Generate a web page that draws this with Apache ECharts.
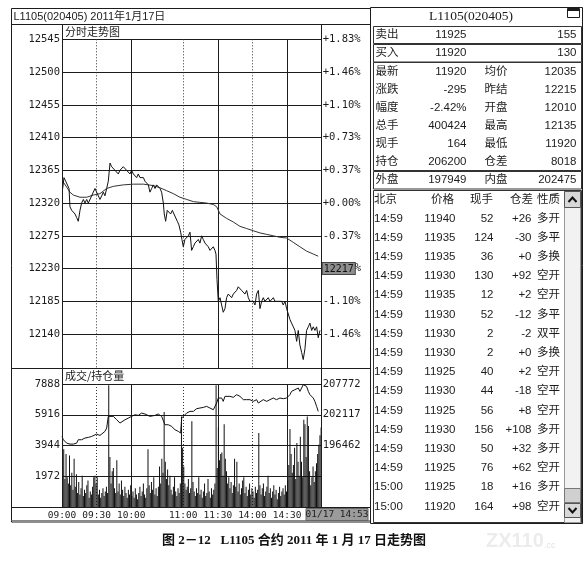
<!DOCTYPE html>
<html><head><meta charset="utf-8">
<script src="https://cdn.jsdelivr.net/npm/echarts@6/dist/echarts.min.js"></script>
<style>html,body{margin:0;padding:0;background:#fff}#c{width:588px;height:565px}</style>
</head><body><div id="c"></div><script>
// ---------------- data ----------------
const chartTitle = 'L1105(020405) 2011年1月17日';
const priceTitle = '分时走势图';
const volTitle = '成交/持仓量';
const stampText = '01/17 14:53';
const captionText = '图 2－12   L1105 合约 2011 年 1 月 17 日走势图';
const baseClose = 12320;
const priceTicks = [12140, 12185, 12230, 12275, 12320, 12365, 12410, 12455, 12500, 12545];
const cursorTick = 12230, cursorPrice = '12217';
const volTicks = [1972, 3944, 5916, 7888];
const oiTicks = [196462, 202117, 207772];
const timeTicks = [0, 30, 60, 105, 135, 165, 195];
const timeLabels = ['09:00', '09:30', '10:00', '11:00', '11:30', '14:00', '14:30'];
const solidTimeLines = [60, 135, 195];
const dottedTimeLines = [30, 105, 165];

// [minute index, price]
const pricePoints = [[0.6,12340],[1.7,12355],[3.2,12350],[4.6,12350],[6.1,12340],[6.9,12315],[8.4,12310],[9.8,12310],[11.3,12305],[12.7,12300],[14.1,12295],[15.6,12310],[17.0,12320],[18.5,12325],[19.9,12320],[21.4,12325],[22.8,12320],[24.3,12320],[25.7,12330],[27.1,12335],[28.6,12340],[30.0,12335],[31.5,12335],[32.9,12325],[34.4,12330],[35.8,12335],[37.2,12330],[38.7,12340],[40.1,12350],[41.6,12375],[43.0,12370],[44.5,12370],[45.9,12365],[47.4,12365],[48.8,12360],[50.2,12365],[51.7,12365],[53.1,12370],[54.6,12370],[56.0,12365],[57.5,12365],[58.9,12360],[60.3,12365],[61.8,12360],[63.2,12360],[64.7,12355],[66.1,12360],[67.6,12355],[69.0,12355],[70.5,12355],[71.9,12350],[73.3,12350],[74.8,12345],[76.2,12335],[77.7,12340],[79.1,12345],[80.6,12340],[82.0,12345],[83.4,12345],[84.9,12340],[86.3,12335],[87.8,12320],[88.6,12305],[89.8,12295],[91.2,12310],[92.7,12310],[94.1,12305],[95.6,12310],[97.0,12305],[98.5,12305],[99.9,12295],[101.3,12290],[102.8,12280],[103.9,12270],[105.1,12260],[106.5,12270],[108.0,12270],[109.4,12275],[110.9,12280],[112.3,12255],[113.8,12260],[115.2,12265],[116.6,12265],[118.1,12270],[119.5,12265],[121.0,12275],[122.4,12270],[123.9,12265],[125.3,12265],[126.7,12260],[128.2,12255],[129.6,12255],[131.1,12260],[132.5,12255],[133.4,12250],[134.3,12215],[135.4,12185],[136.9,12190],[138.3,12180],[139.7,12170],[141.2,12175],[142.6,12190],[144.1,12195],[145.5,12195],[147.0,12190],[148.4,12195],[149.9,12195],[151.3,12200],[152.7,12205],[154.2,12205],[155.6,12200],[157.1,12200],[158.5,12195],[160.0,12200],[161.4,12190],[162.8,12185],[164.3,12185],[165.7,12185],[167.2,12180],[168.6,12195],[170.1,12200],[171.5,12175],[173.0,12185],[174.4,12190],[175.8,12185],[177.3,12185],[178.7,12190],[180.2,12185],[181.6,12185],[183.1,12190],[184.5,12185],[185.9,12185],[187.4,12185],[188.8,12185],[190.3,12185],[191.7,12180],[193.2,12185],[194.6,12175],[196.0,12175],[197.5,12160],[198.9,12155],[200.4,12150],[201.8,12145],[203.3,12130],[204.7,12145],[206.1,12125],[207.6,12115],[209.0,12105],[210.5,12120],[211.9,12145],[213.4,12150],[214.8,12155],[216.3,12145],[217.7,12150],[219.1,12145],[220.6,12150],[222.0,12135],[223.5,12145]];

const avgPoints = [[0.6,12350],[4.0,12342],[6.9,12335],[9.8,12331],[15.6,12328],[21.4,12328],[27.1,12331],[32.9,12333],[38.7,12340],[44.5,12343],[53.1,12345],[61.8,12346],[70.5,12346],[79.1,12344],[84.9,12341],[90.7,12337],[96.4,12333],[102.2,12328],[108.0,12325],[113.8,12322],[119.5,12321],[125.3,12320],[131.1,12318],[134.0,12315],[136.9,12305],[142.6,12299],[148.4,12294],[154.2,12288],[160.0,12285],[165.7,12282],[171.5,12279],[177.3,12277],[183.1,12275],[188.8,12273],[194.6,12272],[200.4,12266],[206.1,12260],[211.9,12254],[217.7,12250],[222.0,12247]];

// volume per minute (index 0 = 09:00)
const volumes = [
 4300,3700,1800,3400,1900,1500,3300,1400,2200,1100,3100,1300,2100,900,1600,
 800,1200,2000,700,1100,900,1400,1700,600,1000,800,1300,1900,2000,1500,
 1900,800,1100,600,900,1200,700,1000,1300,900,7800,3200,1500,2300,2500,
 1200,900,3000,1000,1500,800,1700,1100,700,1300,900,600,1100,800,1400,
 700,1000,600,1200,800,500,900,1300,700,1000,1500,800,600,1200,3700,
 1400,900,1600,1100,1900,800,1200,700,1300,2600,1500,3100,2200,6100,2900,
 1800,2400,1400,2000,1100,800,1300,1900,1000,700,1200,900,1500,5800,3800,
 2600,1500,1100,1300,1800,900,1200,5500,1600,1000,700,1200,900,1900,800,
 1100,600,1000,1500,700,900,1800,1000,600,1200,800,1100,1500,7800,2500,
 5100,3000,3400,3500,2000,5300,3100,2300,1500,1900,1200,1600,900,1400,3100,
 1300,2900,1000,1500,800,1200,1700,1900,900,1300,700,1100,1500,800,1200,
 1000,600,1300,900,1100,4750,1400,800,1200,1500,700,1000,1300,2000,900,
 1200,600,1000,1400,800,1100,500,900,1300,700,1000,1200,800,1400,1000,
 1700,2700,5000,3400,2200,2700,3800,1800,4100,2900,2000,4500,2900,1900,5600,
 5300,3200,5800,5200,2300,1400,1900,2600,1600,2300,2800,3400,4000,4600,5100
];

// [minute index, open interest]
const oiPoints = [[0,198130],[1.2,197520],[4.0,196900],[6.9,196720],[9.8,196720],[12.7,196900],[14.1,197520],[17.0,197520],[19.9,197830],[22.8,197950],[25.7,198130],[27.1,198440],[30.0,198560],[32.9,198320],[34.4,198440],[37.2,199050],[38.7,199670],[40.1,201820],[41.6,202000],[44.5,201820],[45.9,201630],[47.4,201200],[50.2,200590],[51.7,200900],[54.6,201200],[57.5,201510],[60.3,201820],[63.2,202120],[66.1,202000],[69.0,202430],[70.4,202610],[71.9,202250],[73.3,202120],[76.2,201820],[77.7,201510],[80.6,202000],[83.4,202250],[84.9,202430],[86.3,201820],[87.8,202120],[89.2,200280],[90.7,200590],[92.1,200280],[95.0,199970],[97.9,199360],[100.8,199050],[102.8,198750],[103.7,201510],[105.1,201820],[108.0,202430],[110.9,202740],[113.8,202740],[116.6,203230],[119.5,203350],[122.4,203470],[125.3,203660],[128.2,203350],[131.1,203040],[132.5,202740],[134.0,204270],[135.4,205190],[136.9,204890],[138.3,205190],[139.7,204580],[141.2,205500],[142.6,205190],[145.5,205500],[148.4,205320],[151.3,205810],[152.7,206110],[154.2,205500],[155.6,205190],[157.1,204890],[158.5,204580],[160.0,204890],[161.4,204580],[162.8,204890],[165.7,204580],[168.6,204890],[170.1,204270],[171.5,204580],[174.4,204890],[177.3,204580],[180.2,204890],[183.0,205190],[185.9,204890],[188.8,205190],[191.7,205070],[194.6,205190],[196.0,205500],[197.5,205810],[198.9,206420],[200.4,206110],[201.8,206730],[203.3,206420],[204.7,207030],[206.1,206420],[207.6,207030],[209.0,207650],[210.5,207700],[211.9,207340],[213.4,206420],[214.8,205810],[216.3,206110],[217.7,205190],[219.1,204580],[220.6,203660],[222.0,202740]];

// side panel
const quoteTitle = 'L1105(020405)';
const quoteRows = [
 ['卖出','11925','','155'],
 ['买入','11920','','130'],
 ['最新','11920','均价','12035'],
 ['涨跌','-295','昨结','12215'],
 ['幅度','-2.42%','开盘','12010'],
 ['总手','400424','最高','12135'],
 ['现手','164','最低','11920'],
 ['持仓','206200','仓差','8018'],
 ['外盘','197949','内盘','202475']
];
const tradeHeader = ['北京','价格','现手','仓差','性质'];
const trades = [
 ['14:59','11940','52','+26','多开'],
 ['14:59','11935','124','-30','多平'],
 ['14:59','11935','36','+0','多换'],
 ['14:59','11930','130','+92','空开'],
 ['14:59','11935','12','+2','空开'],
 ['14:59','11930','52','-12','多平'],
 ['14:59','11930','2','-2','双平'],
 ['14:59','11930','2','+0','多换'],
 ['14:59','11925','40','+2','空开'],
 ['14:59','11930','44','-18','空平'],
 ['14:59','11925','56','+8','空开'],
 ['14:59','11930','156','+108','多开'],
 ['14:59','11930','50','+32','多开'],
 ['14:59','11925','76','+62','空开'],
 ['15:00','11925','18','+16','多开'],
 ['15:00','11920','164','+98','空开']
];

// ---------------- chart ----------------
const INK = '#1c1c1c';
const MONO = "'DejaVu Sans Mono', monospace";
const SANS = "'Liberation Sans','Noto Sans CJK SC',sans-serif";
const PL = 62, PW = 259.7;

function pctLabel(v) {
  if (v === cursorTick) return '{b|' + cursorPrice + '}%';
  const p = (v - baseClose) / baseClose * 100;
  return (p >= 0 ? '+' : '-') + Math.abs(p).toFixed(2) + '%';
}
const plain = v => String(v);

const xBase = { type: 'value', min: 0, max: 225, axisLine: { show: false }, axisLabel: { show: false } };
const solidSplit = { show: true, lineStyle: { color: INK, width: 1 } };
const dotSplit = { show: true, lineStyle: { color: '#333', width: 1, type: [1, 2] } };
const labelFont = { fontFamily: MONO, fontSize: 10.5, color: INK };

const g = [];
function line(x1, y1, x2, y2, c) { g.push({ type: 'line', silent: true, z: 10, shape: { x1, y1, x2, y2 }, style: { stroke: c || INK, lineWidth: 1 } }); }
function rect(x, y, w, h, fill, stroke, z) { g.push({ type: 'rect', silent: true, z: z || 1, shape: { x, y, width: w, height: h }, style: { fill: fill || 'none', stroke: stroke || 'none', lineWidth: 1 } }); }
function text(t, x, y, align, font, color, z) { g.push({ type: 'text', silent: true, z: z || 12, style: { text: t, x, y, textAlign: align || 'left', textVerticalAlign: 'middle', font: font, fill: color || INK } }); }

// left panel frame
rect(11.5, 8.5, 359, 513.5, 'none', INK, 10);
line(11.5, 24.5, 370.5, 24.5);
line(11.5, 368.5, 370.5, 368.5);
line(11.5, 507.5, 370.5, 507.5);
line(62.5, 24.5, 62.5, 507.5);
line(321.5, 24.5, 321.5, 507.5);
line(11.5, 520.5, 370.5, 520.5, '#888');
text(chartTitle, 13.5, 16.5, 'left', "11px " + SANS);
text(priceTitle, 65, 31.5, 'left', "11px 'Noto Sans CJK SC'");
text(volTitle, 65, 376, 'left', "11px 'Noto Sans CJK SC'");
rect(306, 508.5, 62, 12, '#9b9b9b', '#666', 11);
text(stampText, 337, 515, 'center', "9.5px " + MONO, '#222', 13);

// right panel
rect(370.5, 7.5, 212, 516, 'none', INK, 10);
text(quoteTitle, 471, 16.5, 'center', "13.5px 'Liberation Serif'");
rect(567.5, 8.5, 12, 9, '#fff', INK, 11);
rect(568, 9, 11, 2, INK, 'none', 12);
const boxes = [[26.5, 17], [44.5, 17.5], [62.5, 108], [171.5, 17.5], [190.5, 332]];
boxes.forEach(b => rect(373.5, b[0], 208, b[1], 'none', '#333', 10));
const qy = [34.7, 52.7, 71.7, 89.5, 107.5, 125.7, 144, 161.8, 180.2];
const QF = "11.5px " + SANS;
quoteRows.forEach((r, i) => {
  text(r[0], 375.5, qy[i], 'left', QF);
  text(r[1], 466.5, qy[i], 'right', QF);
  if (r[2]) text(r[2], 484.5, qy[i], 'left', QF);
  text(r[3], 576.5, qy[i], 'right', QF);
});
const hy = 199.5;
text(tradeHeader[0], 374, hy, 'left', QF);
text(tradeHeader[1], 431, hy, 'left', QF);
text(tradeHeader[2], 470, hy, 'left', QF);
text(tradeHeader[3], 510, hy, 'left', QF);
text(tradeHeader[4], 537, hy, 'left', QF);
trades.forEach((r, i) => {
  const y = 218.4 + i * 19.2;
  text(r[0], 374, y, 'left', QF);
  text(r[1], 455.5, y, 'right', QF);
  text(r[2], 493.5, y, 'right', QF);
  text(r[3], 531.5, y, 'right', QF);
  text(r[4], 537, y, 'left', QF);
});
// scrollbar
rect(564.5, 191.5, 16, 331, '#f2f2f2', '#999', 11);
rect(564.5, 191.5, 16, 16, '#d8d8d8', '#555', 12);
g.push({ type: 'polyline', silent: true, z: 13, shape: { points: [[568.5, 202], [572.5, 197.5], [576.5, 202]] }, style: { stroke: '#111', lineWidth: 2, fill: 'none' } });
rect(564.5, 488.5, 16, 14, '#d0d0d0', '#777', 12);
rect(564.5, 503.5, 16, 14, '#d8d8d8', '#555', 12);
g.push({ type: 'polyline', silent: true, z: 13, shape: { points: [[568.5, 508], [572.5, 512.5], [576.5, 508]] }, style: { stroke: '#111', lineWidth: 2, fill: 'none' } });

// caption + watermark
text(captionText, 294, 541, 'center', "bold 13px 'Liberation Serif','Noto Sans CJK SC'", '#111');
text('ZX110', 486, 541, 'left', "bold 20px 'Liberation Sans'", '#ececec');
text('.cc', 544, 546, 'left', "9px 'Liberation Sans'", '#e2e2e2');

const option = {
  backgroundColor: '#fff',
  animation: false,
  grid: [
    { left: PL, top: 39.3, width: PW, height: 329 },
    { left: PL, top: 384, width: PW, height: 123 }
  ],
  xAxis: [
    Object.assign({}, xBase, { gridIndex: 0, position: 'bottom', axisTick: { show: false, customValues: solidTimeLines }, splitLine: solidSplit }),
    Object.assign({}, xBase, { gridIndex: 0, position: 'top', axisTick: { show: false, customValues: dottedTimeLines }, splitLine: dotSplit }),
    Object.assign({}, xBase, { gridIndex: 1, position: 'bottom', axisTick: { show: false, customValues: solidTimeLines }, splitLine: solidSplit,
      axisLabel: { show: true, customValues: timeTicks, margin: 4, fontFamily: MONO, fontSize: 9.5, color: INK,
        formatter: v => timeLabels[timeTicks.indexOf(v)] || '' } }),
    Object.assign({}, xBase, { gridIndex: 1, position: 'top', axisTick: { show: false, customValues: dottedTimeLines }, splitLine: dotSplit })
  ],
  yAxis: [
    { type: 'value', gridIndex: 0, min: 12093, max: 12545, position: 'left', axisLine: { show: false },
      axisTick: { show: false, customValues: priceTicks }, axisLabel: Object.assign({ customValues: priceTicks, margin: 2, formatter: plain }, labelFont), splitLine: solidSplit },
    { type: 'value', gridIndex: 0, min: 12093, max: 12545, position: 'right', axisLine: { show: false },
      axisTick: { show: false, customValues: priceTicks }, splitLine: { show: false },
      axisLabel: Object.assign({ customValues: priceTicks, margin: 1, formatter: pctLabel,
        rich: { b: { backgroundColor: '#8e8e8e', borderColor: '#444', borderWidth: 1, padding: [1, 1, 0, 1], fontFamily: MONO, fontSize: 10, color: '#111' } } }, labelFont) },
    { type: 'value', gridIndex: 1, min: 0, max: 7888, position: 'left', axisLine: { show: false },
      axisTick: { show: false, customValues: volTicks }, axisLabel: Object.assign({ customValues: volTicks, margin: 2, formatter: plain }, labelFont), splitLine: solidSplit },
    { type: 'value', gridIndex: 1, min: 185152, max: 207772, position: 'right', axisLine: { show: false },
      axisTick: { show: false, customValues: oiTicks }, axisLabel: Object.assign({ customValues: oiTicks, margin: 1, formatter: plain }, labelFont), splitLine: { show: false } }
  ],
  series: [
    { name: 'avg', type: 'line', xAxisIndex: 0, yAxisIndex: 0, data: avgPoints, symbol: 'none', lineStyle: { color: '#333', width: 1 }, z: 3 },
    { name: 'price', type: 'line', xAxisIndex: 0, yAxisIndex: 0, data: pricePoints, symbol: 'none', lineStyle: { color: '#111', width: 1 }, z: 4 },
    { name: 'volume', type: 'bar', xAxisIndex: 2, yAxisIndex: 2, data: volumes.map((v, i) => [i + 0.5, v]), barWidth: 1, itemStyle: { color: '#111' }, z: 3 },
    { name: 'oi', type: 'line', xAxisIndex: 2, yAxisIndex: 3, data: oiPoints, symbol: 'none', lineStyle: { color: '#111', width: 1 }, z: 4 }
  ],
  graphic: g
};
const chart = echarts.init(document.getElementById('c'));
chart.setOption(option);
</script></body></html>
